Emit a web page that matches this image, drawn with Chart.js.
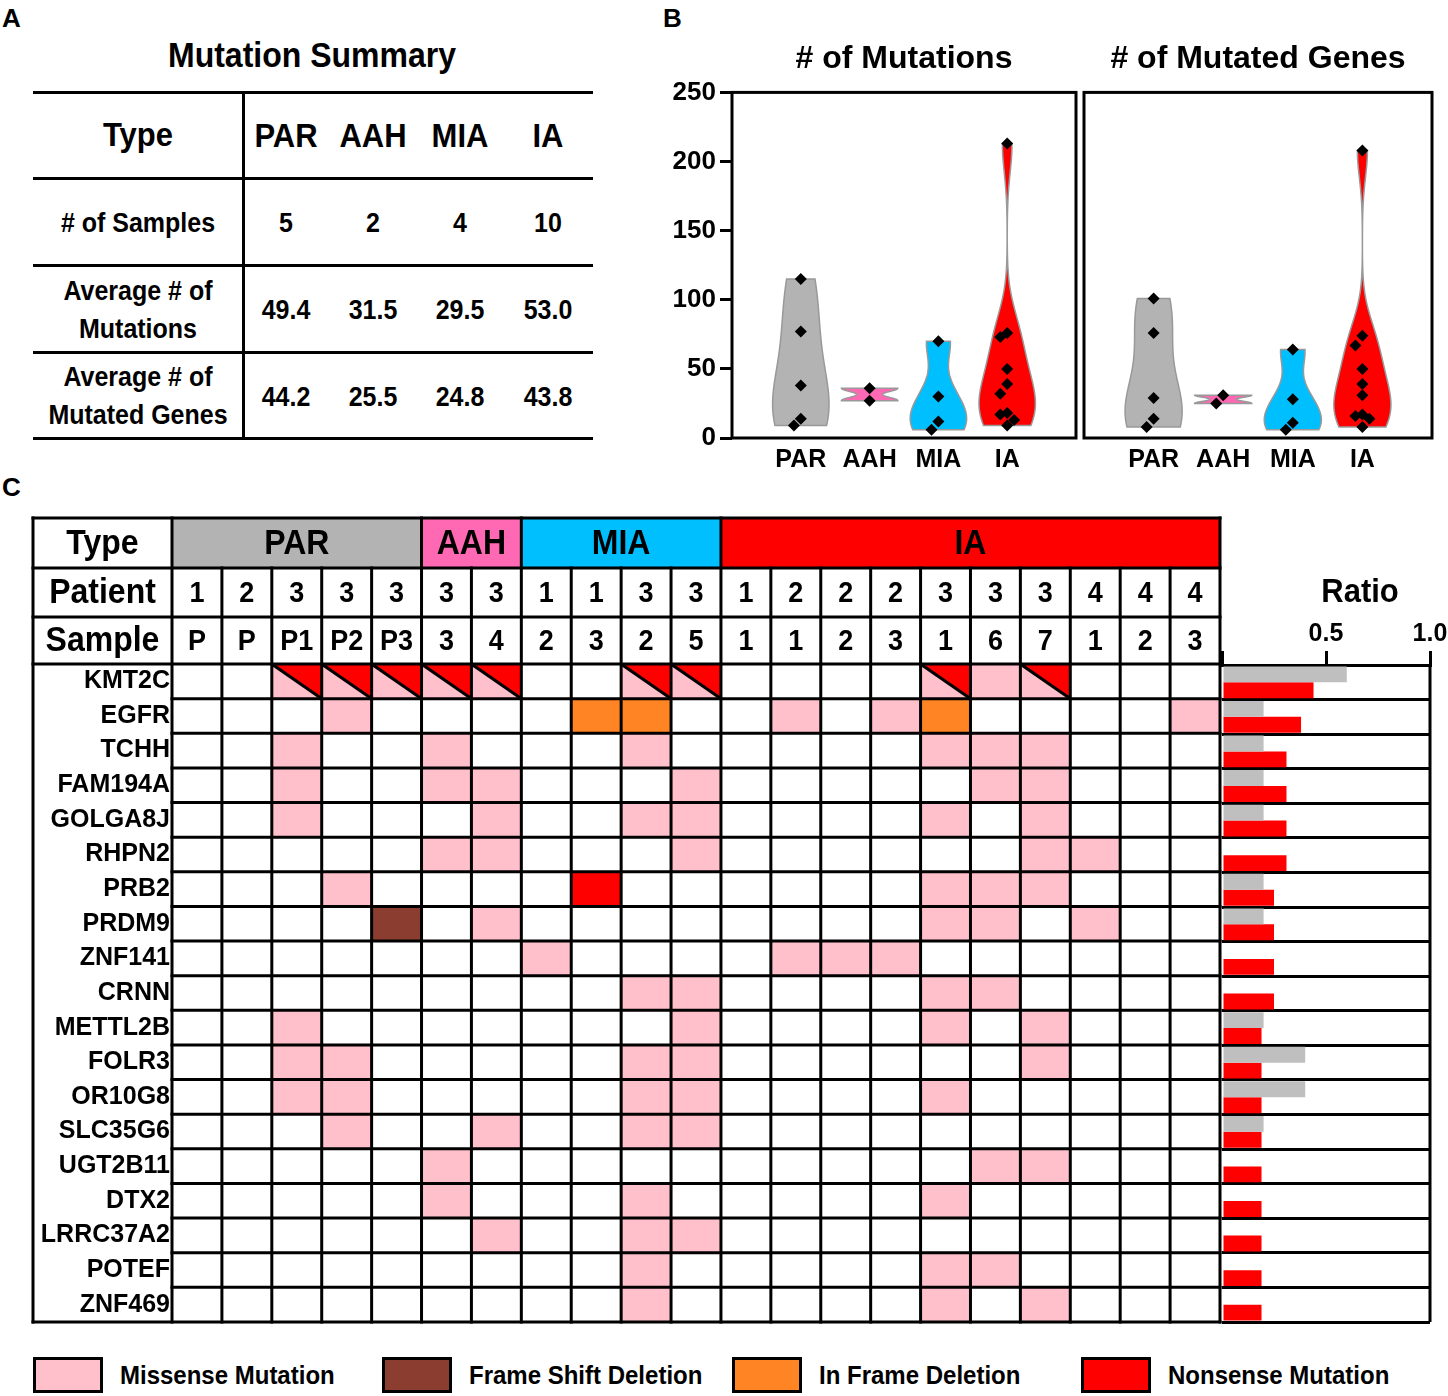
<!DOCTYPE html>
<html lang="en">
<head>
<meta charset="UTF-8" />
<title>Mutation Summary</title>
<script src="https://cdn.jsdelivr.net/npm/chart.js"></script>
<style>
  body { margin: 0; background: #fff; color: #000; font-family: "Liberation Sans", Arial, sans-serif; font-weight: bold; }
  #page { position: relative; width: 1448px; height: 1396px; overflow: hidden; }
  .lbl { position: absolute; font-size: 26px; line-height: 30px; }
  .hl { position: absolute; height: 3px; background: #000; }
  .vl { position: absolute; width: 3px; background: #000; }
  .cell { position: absolute; display: flex; align-items: center; justify-content: center; text-align: center; }
  .tall { transform: scaleY(1.1); }
  .box { position: absolute; box-sizing: border-box; border: 3px solid #000; }
  canvas { position: absolute; }
</style>
</head>
<body>
<div id="page">
  <div class="lbl" style="left:2px;top:3px">A</div>
  <div class="lbl" style="left:663px;top:3px">B</div>
  <div class="lbl" style="left:2px;top:472px">C</div>
  <div id="tableA"></div>
  <canvas id="mutChart" width="442" height="466" style="left:640px;top:24px"></canvas>
  <canvas id="geneChart" width="370" height="466" style="left:1078px;top:24px"></canvas>
  <canvas id="gridChart" width="1195" height="816" style="left:30px;top:512px"></canvas>
  <canvas id="ratioChart" width="233" height="768" style="left:1215px;top:560px"></canvas>
  <div id="legendC"></div>
</div>
<script>
  // ---- panel A: summary table
  const summaryTypes = ["PAR", "AAH", "MIA", "IA"];
  const sampleCounts = ["5", "2", "4", "10"];
  const avgMutations = ["49.4", "31.5", "29.5", "53.0"];
  const avgMutatedGenes = ["44.2", "25.5", "24.8", "43.8"];

  // ---- panel B: per-sample counts
  const groups = ["PAR", "AAH", "MIA", "IA"];
  const mutPAR = [115, 77, 38, 14, 9];
  const mutAAH = [36, 27];
  const mutMIA = [70, 30, 12, 6];
  const mutIA = [213, 76, 73, 50, 39, 32, 18, 17, 13, 9];
  const genePAR = [101, 76, 29, 14, 8];
  const geneAAH = [31, 25];
  const geneMIA = [64, 28, 11, 6];
  const geneIA = [208, 74, 67, 50, 39, 31, 17, 16, 14, 8];
  const yTicksB = [0, 250, 50];

  // ---- panel C: mutation matrix
  const sampleType = ["PAR","PAR","PAR","PAR","PAR","AAH","AAH","MIA","MIA","MIA","MIA",
                      "IA","IA","IA","IA","IA","IA","IA","IA","IA","IA"];
  const patients = ["1","2","3","3","3","3","3","1","1","3","3","1","2","2","2","3","3","3","4","4","4"];
  const samples = ["P","P","P1","P2","P3","3","4","2","3","2","5","1","1","2","3","1","6","7","1","2","3"];
  const genes = ["KMT2C","EGFR","TCHH","FAM194A","GOLGA8J","RHPN2","PRB2","PRDM9","ZNF141","CRNN",
                 "METTL2B","FOLR3","OR10G8","SLC35G6","UGT2B11","DTX2","LRRC37A2","POTEF","ZNF469"];
  // . none, m missense, f frame shift deletion, i in frame deletion, n nonsense, x missense + nonsense
  const mutations = [
    "..xxxxx..xx....xmx...",
    "...m....ii..m.mi....m",
    "..m..m...m.....mmm...",
    "..m..mm...m.....mm...",
    "..m...m..mm....m.m...",
    ".....mm...m......mm..",
    "...m....n......mmm...",
    "....f.m........mm.m..",
    ".......m....mmm......",
    ".........mm....mm....",
    "..m.......m....m.m...",
    "..mm.....mm......m...",
    "..mm.....mm....m.....",
    "...m..m..mm..........",
    ".....m..........mm...",
    ".....m...m.....m.....",
    "......m..mm..........",
    ".........m.....mm....",
    ".........m.....m.m..."
  ];
  const parRatio = [0.6, 0.2, 0.2, 0.2, 0.2, 0, 0.2, 0.2, 0, 0, 0.2, 0.4, 0.4, 0.2, 0, 0, 0, 0, 0];
  const tumorRatio = [0.44, 0.38, 0.31, 0.31, 0.31, 0.31, 0.25, 0.25, 0.25, 0.25,
                      0.19, 0.19, 0.19, 0.19, 0.19, 0.19, 0.19, 0.19, 0.19];
  const ratioTicks = [0, 0.5, 1.0];
  const legendLabels = ["Missense Mutation", "Frame Shift Deletion", "In Frame Deletion", "Nonsense Mutation"];

  const groupColors = { PAR: "#B3B3B3", AAH: "#FF69B4", MIA: "#00BFFF", IA: "#FF0000" };
  const cellColors = { m: "#FFC0CB", f: "#8B3E2F", i: "#FF8424", n: "#FF0000" };

  Chart.defaults.font.family = '"Liberation Sans", Arial, sans-serif';
  Chart.defaults.font.weight = "bold";
  Chart.defaults.color = "#000";

  // ---------- panel A (plain html)
  const tableA = document.getElementById("tableA");
  function addDiv(cls, style, html) {
    const d = document.createElement("div");
    d.className = cls;
    d.style.cssText = style;
    if (html !== undefined) d.innerHTML = html;
    tableA.appendChild(d);
  }
  addDiv("cell tall", "left:0;top:36px;width:624px;height:38px;font-size:32px", "Mutation Summary");
  const rowsA = [
    { top: 92, h: 86, label: "Type", vals: summaryTypes, size: 31 },
    { top: 178, h: 87, label: "# of Samples", vals: sampleCounts, size: 25 },
    { top: 265, h: 87, label: "Average # of<br>Mutations", vals: avgMutations, size: 25 },
    { top: 352, h: 86, label: "Average # of<br>Mutated Genes", vals: avgMutatedGenes, size: 25 }
  ];
  const colCentersA = [286, 373, 460, 548];
  rowsA.forEach(r => {
    addDiv("cell tall", `left:33px;top:${r.top}px;width:210px;height:${r.h}px;font-size:${r.size}px;line-height:34px`, r.label);
    r.vals.forEach((v, i) => {
      addDiv("cell tall", `left:${colCentersA[i] - 43}px;top:${r.top + 1}px;width:86px;height:${r.h}px;font-size:${r.size}px`, v);
    });
  });
  [92, 178, 265, 352, 438].forEach(y => addDiv("hl", `left:33px;top:${y - 1}px;width:560px`));
  addDiv("vl", "left:242px;top:92px;height:347px");

  // ---------- panel B (violins)
  function quantile(s, p) {
    const pos = (s.length - 1) * p, lo = Math.floor(pos), hi = Math.ceil(pos);
    return s[lo] + (s[hi] - s[lo]) * (pos - lo);
  }
  function bandwidth(vals) {
    const s = [...vals].sort((a, b) => a - b), n = s.length;
    const mean = s.reduce((a, b) => a + b, 0) / n;
    const sd = Math.sqrt(s.reduce((a, b) => a + (b - mean) ** 2, 0) / (n - 1));
    const iqr = (quantile(s, 0.75) - quantile(s, 0.25)) / 1.34;
    return 0.9 * Math.min(sd, iqr || sd) * Math.pow(n, -0.2);
  }
  function density(vals, v, bw) {
    return vals.reduce((a, p) => a + Math.exp(-0.5 * ((v - p) / bw) ** 2), 0);
  }
  // simple beeswarm so overlapping diamonds sit side by side
  const swarmGap = 8, swarmStep = 0.1;
  function swarm(vals) {
    const placed = [];
    return vals.map(v => {
      for (const k of [0, -1, 1, -2, 2, -3, 3]) {
        if (!placed.some(p => p.k === k && Math.abs(p.v - v) < swarmGap)) {
          placed.push({ v, k });
          return { v, dx: k * swarmStep };
        }
      }
      return { v, dx: 0 };
    });
  }

  const violinHalf = 0.41;
  function violinPlugin(series) {
    return {
      id: "violins",
      beforeDatasetsDraw(chart) {
        const { ctx, scales: { x, y } } = chart;
        series.forEach((vals, gi) => {
          const lo = Math.min(...vals), hi = Math.max(...vals), bw = bandwidth(vals);
          const prof = [];
          for (let k = 0; k <= 90; k++) {
            const v = lo + (hi - lo) * k / 90;
            prof.push([v, density(vals, v, bw)]);
          }
          const dmax = Math.max(...prof.map(p => p[1]));
          ctx.save();
          ctx.beginPath();
          prof.forEach(([v, d], k) => {
            const px = x.getPixelForValue(gi + 1 - violinHalf * d / dmax), py = y.getPixelForValue(v);
            k ? ctx.lineTo(px, py) : ctx.moveTo(px, py);
          });
          for (let k = prof.length - 1; k >= 0; k--) {
            const [v, d] = prof[k];
            ctx.lineTo(x.getPixelForValue(gi + 1 + violinHalf * d / dmax), y.getPixelForValue(v));
          }
          ctx.closePath();
          ctx.fillStyle = groupColors[groups[gi]];
          ctx.fill();
          ctx.strokeStyle = "#999";
          ctx.lineWidth = 1.5;
          ctx.stroke();
          ctx.restore();
        });
      }
    };
  }
  const frame = {
    id: "frame",
    afterDraw(chart) {
      const { ctx, chartArea: a } = chart;
      ctx.save();
      ctx.strokeStyle = "#000";
      ctx.lineWidth = 3;
      ctx.strokeRect(a.left, a.top, a.right - a.left, a.bottom - a.top);
      ctx.restore();
    }
  };

  function violinChart(id, title, series, showY, pad) {
    const points = [];
    series.forEach((vals, gi) => swarm(vals).forEach(p => points.push({ x: gi + 1 + p.dx, y: p.v })));
    return new Chart(document.getElementById(id), {
      type: "scatter",
      data: { datasets: [{ data: points, pointStyle: "rectRot", pointRadius: 6, pointHoverRadius: 6,
                           backgroundColor: "#000", borderWidth: 0 }] },
      options: {
        responsive: false,
        animation: false,
        layout: { padding: pad },
        plugins: {
          legend: { display: false },
          tooltip: { enabled: false },
          title: { display: true, text: title, fullSize: false, color: "#000",
                   font: { size: 32, weight: "bold" }, padding: { top: 16, bottom: 14 } }
        },
        scales: {
          x: {
            type: "linear", min: 0, max: groups.length + 1,
            grid: { display: false, drawTicks: false }, border: { display: false },
            afterBuildTicks: s => { s.ticks = groups.map((g, i) => ({ value: i + 1 })); },
            ticks: { callback: (v, i) => groups[i], font: { size: 25, weight: "bold" }, padding: 7,
                     maxRotation: 0, autoSkip: false },
            afterFit: s => { s.height = 52; }
          },
          y: {
            display: showY, min: yTicksB[0], max: yTicksB[1],
            ticks: { stepSize: yTicksB[2], font: { size: 26, weight: "bold" }, padding: 4 },
            grid: { drawOnChartArea: false, tickLength: 12, lineWidth: 3, color: "#000" },
            border: { display: false },
            afterFit: s => { s.width = showY ? 92 : 0; }
          }
        }
      },
      plugins: [violinPlugin(series), frame]
    });
  }
  violinChart("mutChart", "# of Mutations", [mutPAR, mutAAH, mutMIA, mutIA], true,
              { left: 0, right: 2, top: 0, bottom: 0 });
  violinChart("geneChart", "# of Mutated Genes", [genePAR, geneAAH, geneMIA, geneIA], false,
              { left: 2, right: 16, top: 0, bottom: 0 });

  // ---------- panel C (mutation grid)
  const typeRuns = [];
  sampleType.forEach((t, c) => {
    const last = typeRuns[typeRuns.length - 1];
    if (last && last.type === t) last.end = c + 1;
    else typeRuns.push({ type: t, start: c, end: c + 1 });
  });
  const headerTops = [146, 96, 47];   // px above the first gene row

  const gridPlugin = {
    id: "oncoGrid",
    afterDraw(chart) {
      const { ctx, chartArea: a, scales: { x, y } } = chart;
      const left = y.left;
      const rowTop = i => y.getPixelForValue(i - 0.5);
      const colX = c => x.getPixelForValue(c);
      const hY = [a.top - headerTops[0], a.top - headerTops[1], a.top - headerTops[2], a.top];
      const line = (x0, y0, x1, y1) => { ctx.beginPath(); ctx.moveTo(x0, y0); ctx.lineTo(x1, y1); ctx.stroke(); };
      const text = (t, tx, ty) => { ctx.save(); ctx.translate(tx, ty); ctx.scale(1, 1.1); ctx.fillText(t, 0, 0); ctx.restore(); };
      ctx.save();
      ctx.strokeStyle = "#000";
      ctx.lineWidth = 3;
      ctx.lineCap = "square";

      mutations.forEach((row, gi) => {
        [...row].forEach((k, c) => {
          if (k === ".") return;
          const x0 = colX(c), x1 = colX(c + 1), y0 = rowTop(gi), y1 = rowTop(gi + 1);
          if (k === "x") {
            ctx.fillStyle = cellColors.m;
            ctx.fillRect(x0, y0, x1 - x0, y1 - y0);
            ctx.fillStyle = cellColors.n;
            ctx.beginPath(); ctx.moveTo(x0, y0); ctx.lineTo(x1, y0); ctx.lineTo(x1, y1); ctx.closePath(); ctx.fill();
            line(x0, y0, x1, y1);
          } else {
            ctx.fillStyle = cellColors[k];
            ctx.fillRect(x0, y0, x1 - x0, y1 - y0);
          }
        });
      });
      typeRuns.forEach(r => {
        ctx.fillStyle = groupColors[r.type];
        ctx.fillRect(colX(r.start), hY[0], colX(r.end) - colX(r.start), hY[1] - hY[0]);
      });

      hY.forEach(yy => line(left, yy, a.right, yy));
      for (let g = 1; g < genes.length; g++) line(a.left, rowTop(g), a.right, rowTop(g));
      line(left, a.bottom, a.right, a.bottom);
      line(left, hY[0], left, a.bottom);
      line(a.left, hY[0], a.left, a.bottom);
      const runEnds = typeRuns.map(r => r.end);
      for (let c = 1; c <= samples.length; c++) {
        line(colX(c), runEnds.includes(c) ? hY[0] : hY[1], colX(c), a.bottom);
      }

      ctx.fillStyle = "#000";
      ctx.textAlign = "center";
      ctx.textBaseline = "middle";
      const mid = i => (hY[i] + hY[i + 1]) / 2 + 1;
      ctx.font = 'bold 32px "Liberation Sans", Arial, sans-serif';
      ["Type", "Patient", "Sample"].forEach((t, i) => text(t, (left + a.left) / 2, mid(i)));
      typeRuns.forEach(r => text(r.type, (colX(r.start) + colX(r.end)) / 2, mid(0)));
      ctx.font = 'bold 27px "Liberation Sans", Arial, sans-serif';
      samples.forEach((s, c) => {
        const cx = (colX(c) + colX(c + 1)) / 2;
        text(patients[c], cx, mid(1));
        text(s, cx, mid(2));
      });
      ctx.restore();
    }
  };

  new Chart(document.getElementById("gridChart"), {
    type: "scatter",
    data: { datasets: [] },
    options: {
      responsive: false,
      animation: false,
      layout: { padding: { left: 3, right: 5, top: 152, bottom: 6 } },
      plugins: { legend: { display: false }, tooltip: { enabled: false } },
      scales: {
        x: { type: "linear", min: 0, max: samples.length, display: false },
        y: {
          type: "category", labels: genes, offset: true,
          grid: { display: false, drawTicks: false }, border: { display: false },
          ticks: { font: { size: 25, weight: "bold" }, padding: 2, autoSkip: false },
          afterFit: s => { s.width = 139; s.paddingTop = 0; s.paddingBottom = 0; }
        }
      }
    },
    plugins: [gridPlugin]
  });

  const ratioPlugin = {
    id: "ratioExtras",
    afterDraw(chart) {
      const { ctx, chartArea: a } = chart;
      ctx.save();
      ctx.strokeStyle = "#000";
      ctx.lineWidth = 3;
      ctx.beginPath(); ctx.moveTo(a.right, a.top); ctx.lineTo(a.right, a.bottom); ctx.stroke();
      ctx.fillStyle = "#000";
      ctx.textAlign = "center";
      ctx.textBaseline = "middle";
      ctx.font = 'bold 31px "Liberation Sans", Arial, sans-serif';
      ctx.translate(a.left + 138, a.top - 72);
      ctx.scale(1, 1.1);
      ctx.fillText("Ratio", 0, 0);
      ctx.restore();
    }
  };

  new Chart(document.getElementById("ratioChart"), {
    type: "bar",
    data: {
      labels: genes,
      datasets: [
        { data: parRatio, backgroundColor: "#BFBFBF", categoryPercentage: 0.92, barPercentage: 1 },
        { data: tumorRatio, backgroundColor: "#FF0000", categoryPercentage: 0.92, barPercentage: 1 }
      ]
    },
    options: {
      indexAxis: "y",
      responsive: false,
      animation: false,
      layout: { padding: { left: 7, right: 18, top: 0, bottom: 6 } },
      plugins: { legend: { display: false }, tooltip: { enabled: false } },
      scales: {
        x: {
          position: "top", min: 0, max: 1,
          afterBuildTicks: s => { s.ticks = ratioTicks.map(v => ({ value: v })); },
          ticks: { callback: v => (v === 0 ? "" : v.toFixed(1)), font: { size: 25, weight: "bold" },
                   padding: 2, maxRotation: 0, autoSkip: false },
          grid: { drawOnChartArea: false, tickLength: 14, lineWidth: 3, color: "#000" },
          border: { width: 3, color: "#000" },
          afterFit: s => { s.height = 105; s.paddingLeft = 0; s.paddingRight = 0; }
        },
        y: {
          ticks: { display: false },
          grid: { color: "#000", lineWidth: 3, drawTicks: false, offset: true },
          border: { display: false },
          afterFit: s => { s.width = 0; s.paddingTop = 0; s.paddingBottom = 0; }
        }
      }
    },
    plugins: [ratioPlugin]
  });

  // ---------- legend
  const legendC = document.getElementById("legendC");
  const legendColors = [cellColors.m, cellColors.f, cellColors.i, cellColors.n];
  const legendLefts = [33, 382, 732, 1081];
  legendLabels.forEach((t, i) => {
    const b = document.createElement("div");
    b.className = "box";
    b.style.cssText = `left:${legendLefts[i]}px;top:1357px;width:70px;height:36px;background:${legendColors[i]}`;
    legendC.appendChild(b);
    const l = document.createElement("div");
    l.className = "lbl tall";
    l.style.cssText = `left:${legendLefts[i] + 87}px;top:1360px;font-size:24px`;
    l.textContent = t;
    legendC.appendChild(l);
  });
</script>
</body>
</html>
